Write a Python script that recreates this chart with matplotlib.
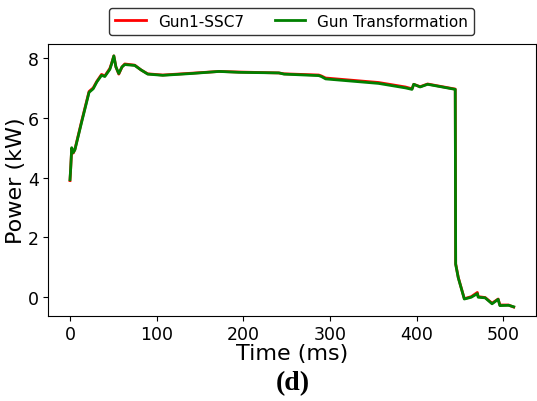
import matplotlib
matplotlib.use("Agg")
import matplotlib.pyplot as plt
import numpy as np

plt.rcParams["font.family"] = ["DejaVu Sans"]

# Time (ms) and power (kW)
time_ms = [0, 0.8, 2.0, 3.8, 5.7, 13.4, 22, 26.8, 31, 36.4, 40.2, 46, 48, 50.6, 53,
           56.3, 60, 63.2, 74.7, 82, 89.7, 107, 140, 172, 195, 241, 247, 287, 290,
           295, 356, 387, 394.6, 396.6, 404, 412.6, 444.5, 445, 448, 455, 463, 470,
           471, 479, 487, 494, 496, 506, 512]
gun_transformation = [3.93, 4.3, 5.0, 4.84, 4.93, 5.85, 6.85, 6.97, 7.2, 7.42, 7.38,
                      7.62, 7.8, 8.07, 7.7, 7.48, 7.7, 7.78, 7.75, 7.6, 7.46, 7.42,
                      7.48, 7.55, 7.52, 7.5, 7.46, 7.41, 7.38, 7.30, 7.15, 7.0, 6.95,
                      7.12, 7.03, 7.12, 6.95, 1.1, 0.65, -0.06, 0.0, 0.12, 0.0, -0.02,
                      -0.22, -0.07, -0.28, -0.27, -0.32]
gun1_ssc7 = [3.90, 4.3, 4.98, 4.82, 4.95, 5.88, 6.88, 7.0, 7.22, 7.45, 7.40, 7.65,
             7.82, 8.07, 7.7, 7.46, 7.7, 7.8, 7.76, 7.6, 7.47, 7.43, 7.49, 7.55,
             7.53, 7.5, 7.47, 7.43, 7.40, 7.33, 7.18, 7.03, 6.97, 7.12, 7.04, 7.13,
             6.96, 1.12, 0.66, -0.05, 0.02, 0.16, 0.02, -0.01, -0.2, -0.06, -0.26,
             -0.26, -0.33]

fig = plt.figure(figsize=(5.37, 4.02), dpi=100)
ax = fig.add_axes([0.089, 0.212, 0.909, 0.677])

ax.plot(time_ms, gun1_ssc7, color="red", lw=2, label="Gun1-SSC7")
ax.plot(time_ms, gun_transformation, color="green", lw=2, label="Gun Transformation")

ax.set_xlim(-25.6, 537.6)
ax.set_ylim(-0.62, 8.48)
ax.set_xticks([0, 100, 200, 300, 400, 500])
ax.set_yticks([0, 2, 4, 6, 8])
ax.tick_params(labelsize=12.5, pad=3)
ax.set_xlabel("Time (ms)", fontsize=16, labelpad=0)
ax.set_ylabel("Power (kW)", fontsize=16)
ax.yaxis.set_label_coords(-0.045, 0.5)

ax.legend(loc="lower center", bbox_to_anchor=(0.5, 1.015), ncol=2, fontsize=11,
          frameon=True, edgecolor="black", fancybox=True, borderaxespad=0.3)

fig.text(0.545, 0.045, "(d)", ha="center", va="center", fontsize=20,
         fontweight="bold", family="Liberation Serif")

fig.savefig("out.png", dpi=100)
